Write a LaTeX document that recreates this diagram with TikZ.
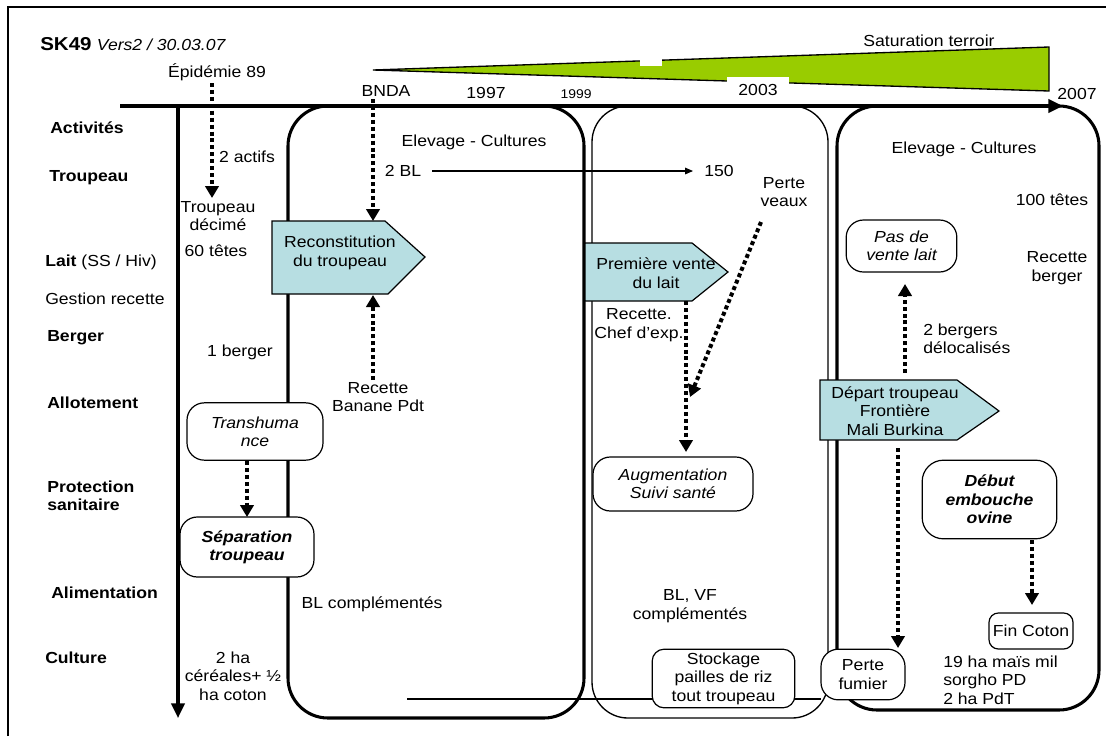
\documentclass[tikz,border=0pt]{standalone}
\usepackage{fontspec}
\setmainfont{Liberation Sans}[FakeStretch=1.1]
\usetikzlibrary{arrows.meta}
\definecolor{tealc}{RGB}{183,222,226}
\definecolor{limec}{RGB}{153,204,0}
\newcommand\fsz{\fontsize{12}{13.8}\selectfont}
\begin{document}
\begin{tikzpicture}[x=0.75pt,y=-0.75pt,
  every node/.style={inner sep=0pt, align=center, font=\fsz},
  rowlbl/.style={anchor=west, align=left, font=\fsz\bfseries},
  bigbox/.style={line width=2.3pt, rounded corners=30pt},
  thinbig/.style={line width=1pt, rounded corners=27pt},
  evbox/.style={draw, fill=white, line width=0.9pt, rounded corners=13pt},
  penta/.style={draw, fill=tealc, line width=0.9pt},
  dotarrow/.style={line width=3pt, dash pattern=on 3pt off 2.2pt, -{Triangle[length=9pt,width=10pt]}},
  thinarrow/.style={line width=0.8pt, -{Triangle[length=6pt,width=5pt]}},
]
\useasboundingbox (0,0) rectangle (1106,736);
% frame
\draw[line width=1.6pt] (8,736) -- (8,7) -- (1106,7);
% title
\node[anchor=west] (title) at (40,44) {{\fontsize{14}{16}\selectfont\bfseries SK49}\hspace{4pt}{\itshape Vers2 / 30.03.07}};
% green wedge
\draw[fill=limec, line width=1pt] (373,70) -- (1049,47) -- (1049,91) -- cycle;
\fill[white] (640,57) rectangle (662,66);
\fill[white] (727,77) rectangle (789,104);
\node (sat) at (929,41) {Saturation terroir};
% phase boxes
\draw[bigbox] (288,106) rectangle (584,718);
\draw[thinbig] (592,106) rectangle (828,718);
\draw[bigbox] (837,106) rectangle (1099,710);
% timelines
\draw[line width=2.3pt, -{Triangle[length=11pt,width=10pt]}] (120,106) -- (1063,106);
\draw[line width=2.3pt, -{Triangle[length=11pt,width=10pt]}] (178,106) -- (178,718);
% bottom line
\coordinate (lstart) at (407,699);
% row labels
\node[rowlbl] (r1) at (50,128) {Activités};
\node[rowlbl] (r2) at (49,178) {Troupeau};
\node[rowlbl, font=\fsz] (r3) at (45,262) {\textbf{Lait} (SS / Hiv)};
\node[rowlbl, font=\fsz] (r4) at (45,299) {Gestion recette};
\node[rowlbl] (r5) at (47,338) {Berger};
\node[rowlbl] (r6) at (47,403) {Allotement};
\node[rowlbl] (r7) at (47,496) {Protection\\sanitaire};
\node[rowlbl] (r8) at (51,593) {Alimentation};
\node[rowlbl] (r9) at (45,658) {Culture};
% timeline labels
\node (bnda) at (386,91) {BNDA};
\node (y97) at (486,93) {1997};
\node[font=\fontsize{9.5}{11}\selectfont] (y99) at (576,94) {1999};
\node (y03) at (758,90) {2003};
\node (y07) at (1077,94) {2007};
% pentagons
\draw[penta] (272,221) -- (385,221) -- (425,257) -- (388,294) -- (272,294) -- cycle;
\node (recon) at (340,253) {Reconstitution\\du troupeau};
\draw[penta] (585,243) -- (692,243) -- (728,272) -- (692,301) -- (585,301) -- cycle;
\node (vente) at (656,273) {Première vente\\du lait};
\draw[penta] (820,380) -- (957,380) -- (999,411) -- (957,440) -- (820,440) -- cycle;
\node (depart) at (895,411) {Départ troupeau\\Frontière\\Mali Burkina};
% event boxes
\node[evbox, font=\fsz\itshape, minimum width=102pt, minimum height=43pt] (trans) at (255,431.5) {Transhuma\\nce};
\node[evbox, font=\fsz\bfseries\itshape, minimum width=100.5pt, minimum height=45pt] (sep) at (247,547) {Séparation\\troupeau};
\node[evbox, font=\fsz\itshape, minimum width=120pt, minimum height=40.5pt] (aug) at (673,484) {Augmentation\\Suivi santé};
\node[evbox, font=\fsz\itshape, minimum width=83pt, minimum height=39pt] (pasv) at (901.5,246) {Pas de\\vente lait};
\node[evbox, rounded corners=16pt, font=\fsz\bfseries\itshape, minimum width=101pt, minimum height=59pt] (debut) at (989.5,499.5) {Début\\embouche\\ovine};
\node[evbox, rounded corners=7pt, minimum width=63pt, minimum height=27pt] (finc) at (1031,631) {Fin Coton};
\coordinate (lend) at (821,699);
\draw[line width=1pt] (lstart) -- (lend);
\node[evbox, minimum width=63pt, minimum height=38pt] (fumier) at (863,674.5) {Perte\\fumier};
\node[evbox, rounded corners=9pt, minimum width=107pt, minimum height=44pt] (stock) at (723.5,678.5) {Stockage\\pailles de riz\\tout troupeau};
% plain texts
\node (epi) at (217,72) {Épidémie 89};
\node (actifs) at (247,157) {2 actifs};
\node (tdec) at (218,216) {Troupeau\\décimé};
\node (t60) at (216,251) {60 têtes};
\node (b1) at (240,352) {1 berger};
\node (ha) at (233,676) {2 ha\\céréales+ ½\\ha coton};
\node (blc) at (372,604) {BL complémentés};
\node (ec1) at (474,142) {Elevage - Cultures};
\node (bl2) at (403,171) {2 BL};
\node (n150) at (719,171) {150};
\node (pv) at (784,192) {Perte\\veaux};
\node (rbp) at (378,397) {Recette\\Banane Pdt};
\node (rce) at (639,325) {Recette.\\Chef d’exp.};
\node (blvf) at (690,606) {BL, VF\\complémentés};
\node (ec3) at (964,149) {Elevage - Cultures};
\node (t100) at (1052,200) {100 têtes};
\node (rb) at (1057,268) {Recette\\berger};
\node[anchor=west, align=left] (bd) at (923,339) {2 bergers\\délocalisés};
\node[anchor=west, align=left] (ha19) at (943,680) {19 ha maïs mil\\sorgho PD\\2 ha PdT};
% arrow end coordinates
\coordinate (a1s) at (212,83);   \coordinate (a1e) at (212,198);
\coordinate (a2s) at (373,99);   \coordinate (a2e) at (373,221);
\coordinate (a3s) at (373,380);  \coordinate (a3e) at (373,295);
\coordinate (a4s) at (247,461);  \coordinate (a4e) at (247,517);
\coordinate (a5s) at (432,171);  \coordinate (a5e) at (693,171);
\coordinate (a6s) at (686,301);  \coordinate (a6e) at (686,452);
\coordinate (a7s) at (761,222);  \coordinate (a7e) at (690,397);
\coordinate (a8s) at (905,373);  \coordinate (a8e) at (905,284);
\coordinate (a9s) at (898,448);  \coordinate (a9e) at (898,648);
\coordinate (a10s) at (1032,540); \coordinate (a10e) at (1032,605);
% arrows
\draw[dotarrow] (a1s) -- (a1e);
\draw[dotarrow] (a2s) -- (a2e);
\draw[dotarrow] (a3s) -- (a3e);
\draw[dotarrow] (a4s) -- (a4e);
\draw[thinarrow] (a5s) -- (a5e);
\draw[dotarrow] (a6s) -- (a6e);
\draw[dotarrow] (a7s) -- (a7e);
\draw[dotarrow] (a8s) -- (a8e);
\draw[dotarrow] (a9s) -- (a9e);
\draw[dotarrow] (a10s) -- (a10e);
\end{tikzpicture}
\end{document}
